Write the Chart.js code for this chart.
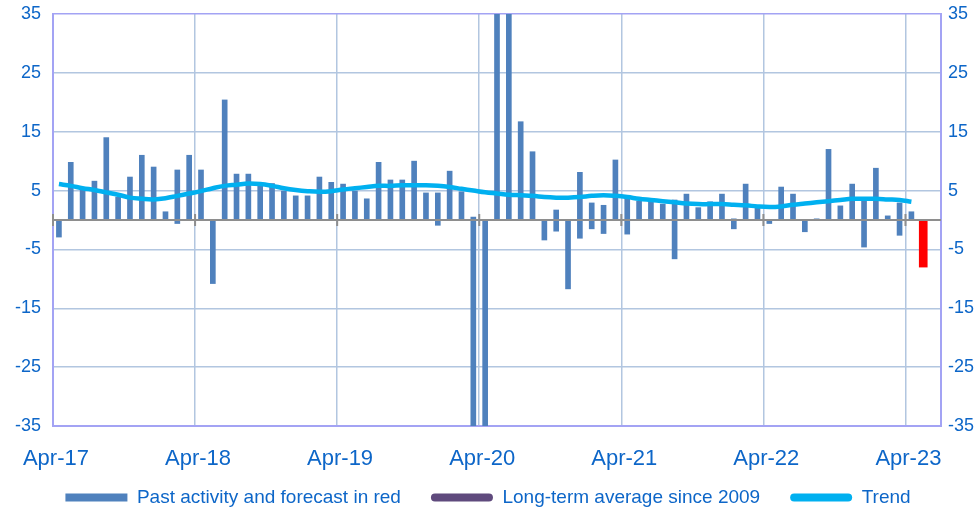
<!DOCTYPE html>
<html>
<head>
<meta charset="utf-8">
<script src="https://cdn.jsdelivr.net/npm/chart.js@4.4.1/dist/chart.umd.min.js"></script>
<style>
  html, body { margin: 0; padding: 0; background: #fff; }
  #wrap { width: 976px; height: 513px; position: relative; }
</style>
</head>
<body>
<div id="wrap"><canvas id="activityChart"></canvas></div>
<script>
// monthly categories, Apr-17 .. Jun-23
const categories = [
  'Apr-17','May-17','Jun-17','Jul-17','Aug-17','Sep-17','Oct-17','Nov-17','Dec-17','Jan-18','Feb-18','Mar-18',
  'Apr-18','May-18','Jun-18','Jul-18','Aug-18','Sep-18','Oct-18','Nov-18','Dec-18','Jan-19','Feb-19','Mar-19',
  'Apr-19','May-19','Jun-19','Jul-19','Aug-19','Sep-19','Oct-19','Nov-19','Dec-19','Jan-20','Feb-20','Mar-20',
  'Apr-20','May-20','Jun-20','Jul-20','Aug-20','Sep-20','Oct-20','Nov-20','Dec-20','Jan-21','Feb-21','Mar-21',
  'Apr-21','May-21','Jun-21','Jul-21','Aug-21','Sep-21','Oct-21','Nov-21','Dec-21','Jan-22','Feb-22','Mar-22',
  'Apr-22','May-22','Jun-22','Jul-22','Aug-22','Sep-22','Oct-22','Nov-22','Dec-22','Jan-23','Feb-23','Mar-23',
  'Apr-23','May-23','Jun-23'
];

// past activity: bar end value and bar start (most bars start at 0)
const activity = [
  -2.9, 9.8, 5.3, 6.6, 14.0, 3.9, 7.3, 11.0, 9.0, 1.4, 8.5, 11.0,
  8.5, -10.8, 20.4, 7.8, 7.8, 5.8, 6.2, 4.9, 4.1, 4.1, 7.3, 6.4,
  6.1, 4.9, 3.6, 9.8, 6.8, 6.8, 10.0, 4.6, 4.6, 8.3, 4.8, -45,
  -60, 45, 40, 16.7, 11.6, -3.4, 1.7, -11.7, 8.1, 2.9, 2.5, 10.2,
  4.1, 3.2, 3.0, 2.7, 3.4, 4.4, 2.1, 3.1, 4.4, -1.5, 6.1, 2.2,
  -0.6, 5.6, 4.4, -2.0, 0.2, 12.0, 2.4, 6.1, 3.4, 8.8, 0.7, 2.9,
  1.4, null, null
];
const activityStart = [
  0, 0, 0, 0, 0, 0, 0, 0, 0, 0, -0.6, 0,
  0, 0, 0, 0, 0, 0, 0, 0, 0, 0, 0, 0,
  0, 0, 0, 0, 0, 0, 0, 0, -0.9, 0, 0, 0.5,
  0, 0, 0, 0, 0, 0, -1.9, 0, -3.1, -1.5, -2.3, 0,
  -2.4, 0, 0, 0, -6.6, 0, 0, 0, 0, 0.2, 0, 0,
  0, 0, 0, 0, 0, 0, 0, 0, -4.6, 0, 0, -2.6,
  0, null, null
];

// forecast (red)
const forecast = [
  null, null, null, null, null, null, null, null, null, null, null, null,
  null, null, null, null, null, null, null, null, null, null, null, null,
  null, null, null, null, null, null, null, null, null, null, null, null,
  null, null, null, null, null, null, null, null, null, null, null, null,
  null, null, null, null, null, null, null, null, null, null, null, null,
  null, null, null, null, null, null, null, null, null, null, null, null,
  null, -8.0, null
];

const trend = [
  6.1, 5.8, 5.4, 5.1, 4.7, 4.3, 3.8, 3.6, 3.5, 3.7, 4.1, 4.5,
  4.9, 5.4, 5.8, 6.0, 6.2, 6.1, 5.8, 5.4, 5.1, 4.9, 4.8, 4.9,
  5.2, 5.4, 5.6, 5.8, 5.8, 5.9, 5.9, 5.9, 5.8, 5.6, 5.3, 5.0,
  4.7, 4.5, 4.3, 4.2, 4.1, 3.9, 3.8, 3.8, 3.9, 4.1, 4.2, 4.1,
  3.9, 3.6, 3.4, 3.2, 3.0, 2.8, 2.7, 2.7, 2.7, 2.6, 2.5, 2.3,
  2.2, 2.3, 2.6, 2.8, 3.0, 3.2, 3.4, 3.6, 3.6, 3.6, 3.5, 3.4,
  3.1, null, null
];

const longTermAverage = [];

const yTicks = [-35, -25, -15, -5, 5, 15, 25, 35];

const textColor = '#0D66C8';
const frameColor = '#A3A3F4';
const gridColor = '#B2C6E0';
const barBlue = '#4F81BD';
const fontFamily = 'Liberation Sans, Arial, sans-serif';

// gray horizontal axis at zero with yearly tick marks
const zeroAxis = {
  id: 'zeroAxis',
  afterDatasetsDraw(chart) {
    const { ctx, chartArea, scales: { x, y } } = chart;
    const y0 = y.getPixelForValue(0);
    const step = x.width / categories.length;
    ctx.save();
    ctx.strokeStyle = '#8E8E8E';
    ctx.lineWidth = 2;
    ctx.beginPath();
    ctx.moveTo(chartArea.left, y0);
    ctx.lineTo(chartArea.right, y0);
    for (let i = 0; i < categories.length; i += 12) {
      const xp = x.getPixelForValue(i) - step / 2;
      ctx.moveTo(xp, y0 - 6);
      ctx.lineTo(xp, y0 + 6);
    }
    ctx.stroke();
    ctx.restore();
  }
};

function setTicks(scale) {
  scale.ticks = yTicks.map(v => ({ value: v }));
}

function fitY(width) {
  return s => {
    s.width = width;
    s.paddingTop = 14;
    s.paddingBottom = 0;
  };
}

const ctx = document.getElementById('activityChart').getContext('2d');
const myChart = new Chart(ctx, {
  type: 'bar',
  data: {
    labels: categories,
    datasets: [
      {
        type: 'line',
        label: 'Trend',
        data: trend,
        borderColor: '#00B0F0',
        borderWidth: 4.5,
        pointRadius: 0,
        tension: 0.4,
        fill: false,
        order: 0
      },
      {
        label: 'Past activity and forecast in red',
        data: activity.map((v, i) => v === null ? null : [activityStart[i], v]),
        backgroundColor: barBlue,
        barThickness: 5,
        grouped: false,
        order: 2
      },
      {
        label: 'Forecast',
        data: forecast,
        backgroundColor: '#FF0000',
        barThickness: 8,
        grouped: false,
        order: 1
      },
      {
        type: 'line',
        label: 'Long-term average since 2009',
        data: longTermAverage,
        borderColor: '#5F4A7D',
        borderWidth: 3,
        pointRadius: 0,
        order: 0
      }
    ]
  },
  options: {
    responsive: true,
    maintainAspectRatio: false,
    animation: false,
    layout: { padding: { top: 0, bottom: -4 } },
    plugins: {
      tooltip: { enabled: false },
      legend: {
        position: 'bottom',
        labels: {
          color: textColor,
          font: { family: fontFamily, size: 19 },
          boxWidth: 62,
          boxHeight: 8,
          padding: 30,
          useBorderRadius: true,
          generateLabels: () => [
            { text: 'Past activity and forecast in red', fillStyle: barBlue, strokeStyle: barBlue, lineWidth: 0, fontColor: textColor, borderRadius: 0 },
            { text: 'Long-term average since 2009', fillStyle: '#5F4A7D', strokeStyle: '#5F4A7D', lineWidth: 0, fontColor: textColor, borderRadius: 4 },
            { text: 'Trend', fillStyle: '#00B0F0', strokeStyle: '#00B0F0', lineWidth: 0, fontColor: textColor, borderRadius: 4 }
          ]
        }
      }
    },
    scales: {
      x: {
        offset: true,
        afterFit: s => {
          s.height = 32;
          // let the month labels run past the short axis box
          s._computeLabelArea = () => undefined;
        },
        grid: {
          offset: true,
          drawTicks: false,
          lineWidth: 1.5,
          color: c => (c.index % 12 === 0 && c.index > 0 && c.index < categories.length) ? gridColor : 'transparent'
        },
        border: { color: frameColor, width: 2 },
        ticks: {
          autoSkip: false,
          maxRotation: 0,
          minRotation: 0,
          labelOffset: -3,
          padding: 20,
          color: textColor,
          font: { family: fontFamily, size: 22 },
          callback: (val, idx) => idx % 12 === 0 ? categories[idx] : ''
        }
      },
      y: {
        position: 'left',
        min: -35,
        max: 35,
        afterBuildTicks: setTicks,
        afterFit: fitY(53),
        grid: {
          drawTicks: false,
          lineWidth: 1.5,
          color: c => Math.abs(c.tick.value) === 35 ? frameColor : gridColor
        },
        border: { color: frameColor, width: 2 },
        ticks: {
          padding: 12,
          color: textColor,
          font: { family: fontFamily, size: 18 }
        }
      },
      y2: {
        position: 'right',
        min: -35,
        max: 35,
        afterBuildTicks: setTicks,
        afterFit: fitY(35),
        grid: { drawOnChartArea: false, drawTicks: false },
        border: { color: frameColor, width: 2 },
        ticks: {
          padding: 7,
          color: textColor,
          font: { family: fontFamily, size: 18 }
        }
      }
    }
  },
  plugins: [zeroAxis]
});
</script>
</body>
</html>
